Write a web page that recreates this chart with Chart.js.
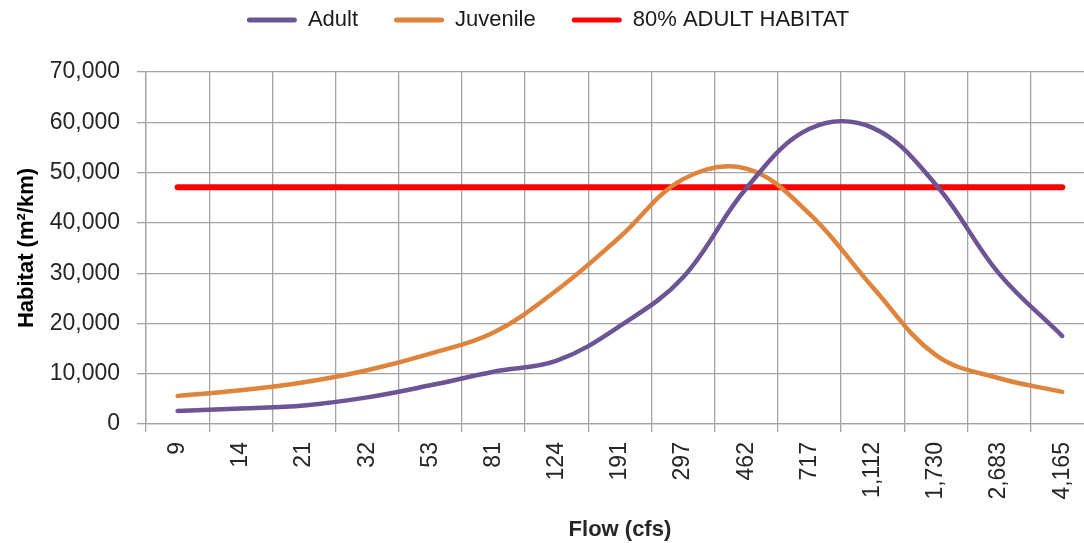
<!DOCTYPE html>
<html>
<head>
<meta charset="utf-8">
<script src="https://cdn.jsdelivr.net/npm/chart.js@4"></script>
<style>
html,body{margin:0;padding:0;background:#fff;overflow:hidden;}
#wrap{position:relative;width:1100px;height:543px;}
</style>
</head>
<body>
<div id="wrap"><canvas id="c"></canvas></div>
<script>
const flowLabels = ['9','14','21','32','53','81','124','191','297','462','717','1,112','1,730','2,683','4,165'];
const adultHabitat = [2600, 3100, 3700, 5300, 7700, 10400, 12600, 19500, 29200, 46900, 58700, 58900, 47600, 29900, 17500];
const juvenileHabitat = [5600, 6700, 8300, 10700, 14000, 18200, 26600, 37200, 48700, 50800, 41800, 27200, 13700, 9100, 6400];
const adult80Habitat = [47100, 47100, 47100, 47100, 47100, 47100, 47100, 47100, 47100, 47100, 47100, 47100, 47100, 47100, 47100];
const yTicks = [0, 10000, 20000, 30000, 40000, 50000, 60000, 70000];

const FONT = "'Liberation Sans', Arial, sans-serif";
const GRID = '#a3a3a3';

const legendShift = {
  id: 'legendShift',
  afterLayout(chart) {
    const lg = chart.legend;
    if (lg) { lg.top -= 31; lg.bottom -= 31; }
  }
};

new Chart(document.getElementById('c'), {
  type: 'line',
  plugins: [legendShift],
  data: {
    labels: flowLabels,
    datasets: [
      {label: 'Adult', data: adultHabitat, borderColor: '#6d5495', backgroundColor: '#6d5495', borderWidth: 4.5, pointRadius: 0, tension: 0.38, borderCapStyle: 'round'},
      {label: 'Juvenile', data: juvenileHabitat, borderColor: '#de843c', backgroundColor: '#de843c', borderWidth: 4.5, pointRadius: 0, tension: 0.38, borderCapStyle: 'round'},
      {label: '80% ADULT HABITAT', data: adult80Habitat, borderColor: '#ff0000', backgroundColor: '#ff0000', borderWidth: 6, pointRadius: 0, tension: 0, borderCapStyle: 'round'}
    ]
  },
  options: {
    responsive: true,
    maintainAspectRatio: false,
    animation: false,
    layout: {padding: {left: 0, right: 4, top: 4, bottom: 0}},
    plugins: {
      tooltip: {enabled: false},
      legend: {
        position: 'top',
        labels: {
          font: {family: FONT, size: 22},
          color: '#1a1a1a',
          boxWidth: 50,
          boxHeight: 5,
          padding: 36,
          useBorderRadius: true,
          borderRadius: 2.5,
          generateLabels(chart) {
            return chart.data.datasets.map((d, i) => ({
              text: d.label, fillStyle: d.borderColor, strokeStyle: d.borderColor,
              lineWidth: 0, datasetIndex: i, hidden: false, fontColor: '#1a1a1a', borderRadius: 2.5
            }));
          }
        }
      }
    },
    scales: {
      x: {
        offset: true,
        grid: {offset: true, color: GRID, lineWidth: 1.3, tickLength: 8, drawTicks: true, tickColor: GRID},
        border: {color: GRID, width: 1.3},
        ticks: {font: {family: FONT, size: 23}, color: '#262626', minRotation: 90, maxRotation: 90, padding: 10, autoSkip: false},
        title: {display: true, text: 'Flow (cfs)', font: {family: FONT, size: 22, weight: 'bold'}, color: '#262626', padding: {top: 7, bottom: 0}}
      },
      y: {
        min: 0, max: 70000,
        afterBuildTicks(scale) { scale.ticks = yTicks.map(v => ({value: v})); },
        grid: {color: GRID, lineWidth: 1.3, tickLength: 9, tickColor: GRID},
        border: {color: GRID, width: 1.3},
        ticks: {font: {family: FONT, size: 23}, color: '#262626', padding: 17, callback: v => v.toLocaleString('en-US')},
        title: {display: true, text: 'Habitat (m²/km)', font: {family: FONT, size: 22, weight: 'bold'}, color: '#000', padding: {top: 14, bottom: 6}},
        afterFit(scale) { scale.width = 146; }
      }
    }
  }
});
</script>
</body>
</html>
